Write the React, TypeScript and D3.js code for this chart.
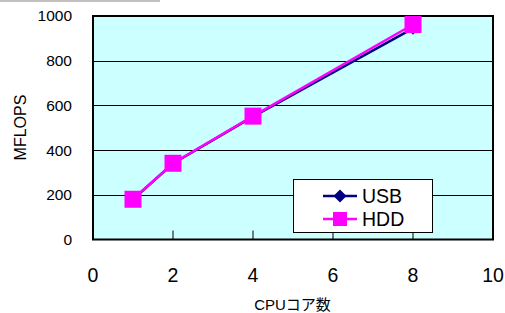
import React, { useEffect, useRef } from 'react';
import * as d3 from 'd3';

const cores = [1, 2, 4, 8];
const usbValues = [180, 340, 550, 945];
const hddValues = [180, 341, 552, 962];
const yTicks = [0, 200, 400, 600, 800, 1000];
const xTicks = [0, 2, 4, 6, 8, 10];
const seriesNames = ['USB', 'HDD'];

const width = 505;
const height = 313;

const App: React.FC = () => {
  const svgRef = useRef<SVGSVGElement>(null);

  useEffect(() => {
    if (!svgRef.current) return;
    const svg = d3.select(svgRef.current);
    svg.selectAll('*').remove();

    const left = 93, right = 493, top = 16, bottom = 239.5;
    const font = 'Arial, "Liberation Sans", sans-serif';

    const x = d3.scaleLinear().domain([0, 10]).range([left, right]);
    const y = d3.scaleLinear().domain([0, 1000]).range([bottom, top]);

    // stray frame fragment at top-left
    svg.append('line')
      .attr('x1', 0).attr('x2', 160).attr('y1', 1).attr('y2', 1)
      .attr('stroke', '#c0c0c0').attr('stroke-width', 2);

    // plot background
    svg.append('rect')
      .attr('x', left).attr('y', top)
      .attr('width', right - left).attr('height', bottom - top)
      .attr('fill', '#ccffff');

    // gridlines
    svg.append('g')
      .selectAll('line')
      .data(yTicks.filter(d => d > 0 && d < 1000))
      .join('line')
      .attr('x1', left).attr('x2', right)
      .attr('y1', d => Math.round(y(d)) + 0.5).attr('y2', d => Math.round(y(d)) + 0.5)
      .attr('stroke', '#000').attr('stroke-width', 1);

    // inside x ticks
    svg.append('g')
      .selectAll('line')
      .data(xTicks.filter(d => d > 0 && d < 10))
      .join('line')
      .attr('x1', d => x(d)).attr('x2', d => x(d))
      .attr('y1', bottom).attr('y2', bottom - 9)
      .attr('stroke', '#000').attr('stroke-width', 1);

    // plot border
    svg.append('rect')
      .attr('x', left).attr('y', top)
      .attr('width', right - left).attr('height', bottom - top)
      .attr('fill', 'none').attr('stroke', '#000').attr('stroke-width', 2);

    // y tick labels
    svg.append('g')
      .selectAll('text')
      .data(yTicks)
      .join('text')
      .attr('x', 72)
      .attr('y', d => y(d))
      .attr('dy', '0.35em')
      .attr('text-anchor', 'end')
      .style('font-family', font)
      .style('font-size', '15.5px')
      .style('fill', '#000')
      .text(d => d);

    // x tick labels
    svg.append('g')
      .selectAll('text')
      .data(xTicks)
      .join('text')
      .attr('x', d => x(d))
      .attr('y', 275)
      .attr('dy', '0.35em')
      .attr('text-anchor', 'middle')
      .style('font-family', font)
      .style('font-size', '19.5px')
      .style('fill', '#000')
      .text(d => d);

    // axis titles
    svg.append('text')
      .attr('transform', 'translate(26,127.5) rotate(-90)')
      .attr('text-anchor', 'middle')
      .style('font-family', font)
      .style('font-size', '16px')
      .style('fill', '#000')
      .text('MFLOPS');

    svg.append('text')
      .attr('x', 292.5)
      .attr('y', 305)
      .attr('dy', '0.35em')
      .attr('text-anchor', 'middle')
      .style('font-family', 'Arial, "Liberation Sans", "Noto Sans CJK JP", sans-serif')
      .style('font-size', '15px')
      .style('fill', '#000')
      .text('CPUコア数');

    const line = d3.line<number>()
      .x((_, i) => x(cores[i]))
      .y(d => y(d));

    // square rotated 45deg -> diamond
    const diamond = d3.symbol().type(d3.symbolSquare).size(85);

    // USB series
    svg.append('path')
      .attr('d', line(usbValues) || '')
      .attr('fill', 'none').attr('stroke', '#000080').attr('stroke-width', 2.5);
    svg.append('g')
      .selectAll('path')
      .data(usbValues)
      .join('path')
      .attr('transform', (d, i) => `translate(${x(cores[i])},${y(d)}) rotate(45)`)
      .attr('d', diamond() || '')
      .attr('fill', '#000080');

    // HDD series
    svg.append('path')
      .attr('d', line(hddValues) || '')
      .attr('fill', 'none').attr('stroke', '#ff00ff').attr('stroke-width', 2.5);
    const sq = 17;
    svg.append('g')
      .selectAll('rect')
      .data(hddValues)
      .join('rect')
      .attr('x', (d, i) => x(cores[i]) - sq / 2)
      .attr('y', d => y(d) - sq / 2)
      .attr('width', sq).attr('height', sq)
      .attr('fill', '#ff00ff');

    // legend
    const legend = svg.append('g');
    legend.append('rect')
      .attr('x', 293.5).attr('y', 179.5)
      .attr('width', 139).attr('height', 53)
      .attr('fill', '#fff').attr('stroke', '#000').attr('stroke-width', 1);

    const rows = [
      { name: seriesNames[0], color: '#000080', cy: 196 },
      { name: seriesNames[1], color: '#ff00ff', cy: 219 }
    ];
    rows.forEach((r, i) => {
      legend.append('line')
        .attr('x1', 323).attr('x2', 357)
        .attr('y1', r.cy).attr('y2', r.cy)
        .attr('stroke', r.color).attr('stroke-width', 2.5);
      if (i === 0) {
        legend.append('path')
          .attr('transform', `translate(340,${r.cy}) rotate(45)`)
          .attr('d', diamond() || '')
          .attr('fill', r.color);
      } else {
        legend.append('rect')
          .attr('x', 340 - 7).attr('y', r.cy - 7)
          .attr('width', 14).attr('height', 14)
          .attr('fill', r.color);
      }
      legend.append('text')
        .attr('x', 362)
        .attr('y', r.cy)
        .attr('dy', '0.36em')
        .style('font-family', font)
        .style('font-size', '19.5px')
        .style('fill', '#000')
        .text(r.name);
    });
  }, []);

  return (
    <svg
      ref={svgRef}
      width={width}
      height={height}
      style={{ position: 'absolute', left: 0, top: 0, background: '#fff', display: 'block' }}
    />
  );
};

export default App;
